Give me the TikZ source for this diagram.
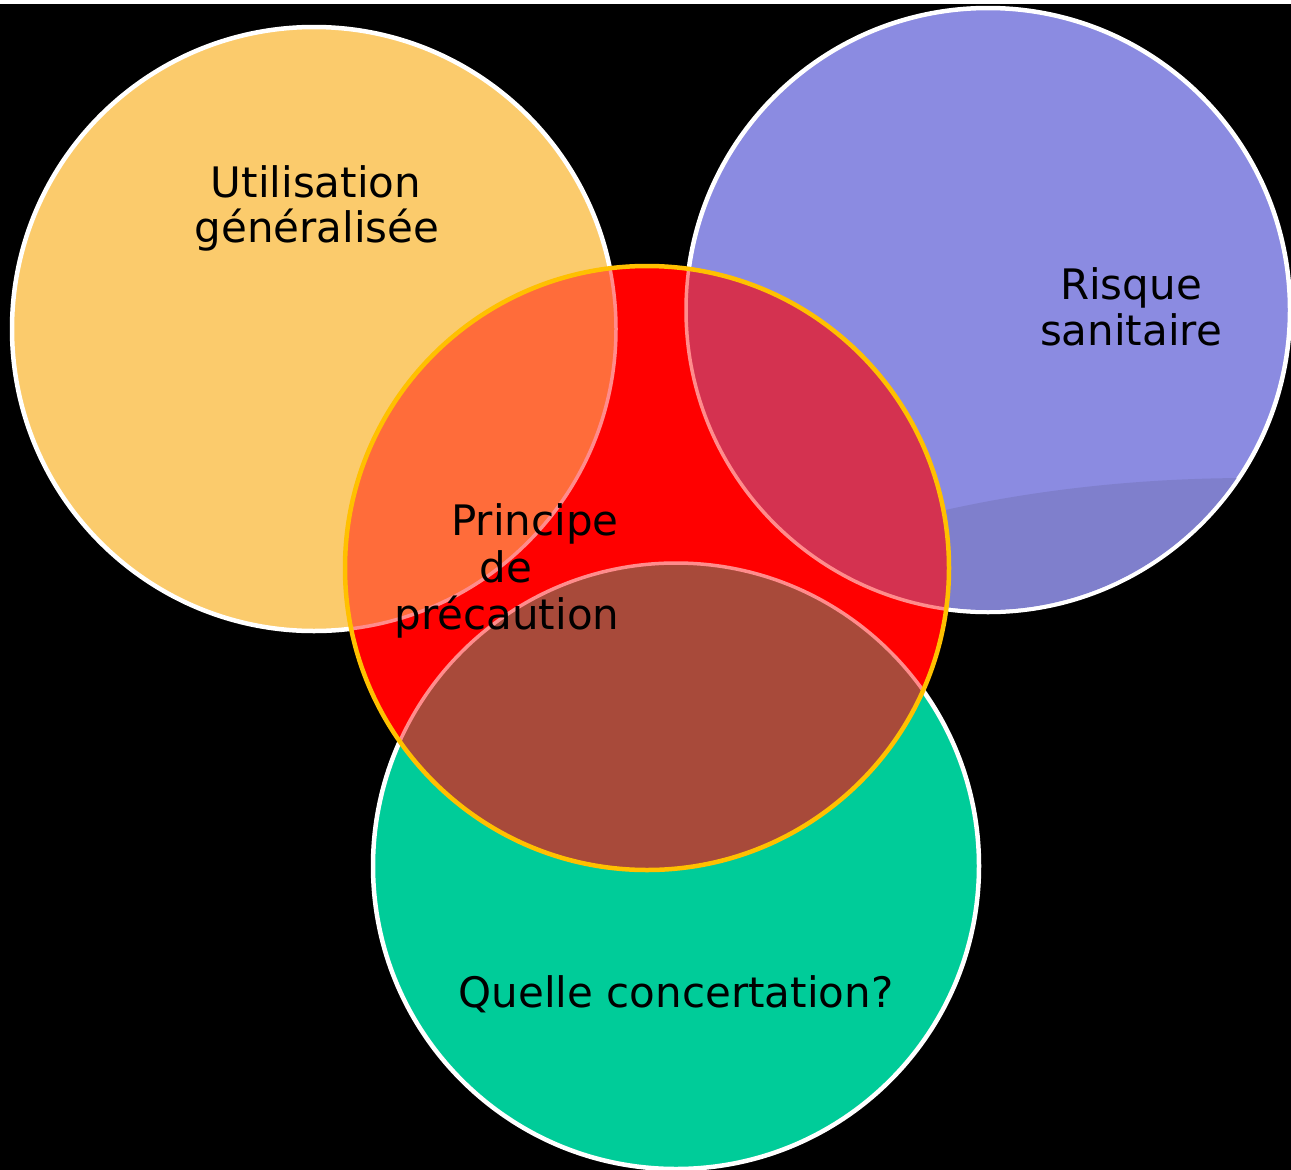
\documentclass[tikz,border=0pt]{standalone}
\usepackage{fontspec}
\setmainfont{DejaVu Sans}
\definecolor{cyel}{RGB}{251,203,108}
\definecolor{cpur}{RGB}{139,139,225}
\definecolor{cpurdark}{RGB}{127,127,204}
\definecolor{cgrn}{RGB}{0,204,153}
\definecolor{cred}{RGB}{255,0,0}
\definecolor{corange}{RGB}{255,108,58}
\definecolor{ccrimson}{RGB}{212,50,80}
\definecolor{cbrown}{RGB}{168,74,58}
\definecolor{cpink}{RGB}{255,140,140}
\definecolor{cborder}{RGB}{255,192,0}
\begin{document}
\begin{tikzpicture}[x=1pt,y=-1pt,
  outer/.style={draw=white,line width=4.5pt},
  inner/.style={draw=cpink,line width=3.5pt},
  lbl/.style={font=\fontsize{42}{46}\selectfont,text=black,inner sep=0pt,anchor=base}]
\useasboundingbox (0,0) rectangle (1291,1170);
\fill[black] (0,0) rectangle (1291,1170);
\fill[white] (0,0) rectangle (1291,4);
% outer circles
\coordinate (cy) at (314,329);
\coordinate (cp) at (988,310);
\coordinate (cg) at (676,866);
\coordinate (cr) at (647,568);
\path[fill=cyel,outer] (cy) circle[radius=302];
\path[fill=cpur,outer] (cp) circle[radius=302];
\begin{scope}
  \clip (cp) circle[radius=300];
  \fill[cpurdark] (1250,800) ellipse[x radius=700,y radius=322];
\end{scope}
\path[fill=cgrn,outer] (cg) circle[radius=303];
% central red circle
\fill[cred] (cr) circle[radius=302];
\begin{scope}
  \clip (cr) circle[radius=302];
  \path[fill=corange,inner] (cy) circle[radius=302];
  \path[fill=ccrimson,inner] (cp) circle[radius=302];
  \path[fill=cbrown,inner] (cg) circle[radius=303];
\end{scope}
\draw[cborder,line width=4.5pt] (cr) circle[radius=302];
% labels
\node[lbl] (t1) at (316,197) {Utilisation};
\node[lbl] (t2) at (317,242) {généralisée};
\node[lbl] (t3) at (1131,299) {Risque};
\node[lbl] (t4) at (1131,345) {sanitaire};
\node[lbl] (t5) at (535,535) {Principe};
\node[lbl] (t6) at (506,582) {de};
\node[lbl] (t7) at (507,629) {précaution};
\node[lbl] (t8) at (676,1007) {Quelle concertation?};
\end{tikzpicture}
\end{document}
